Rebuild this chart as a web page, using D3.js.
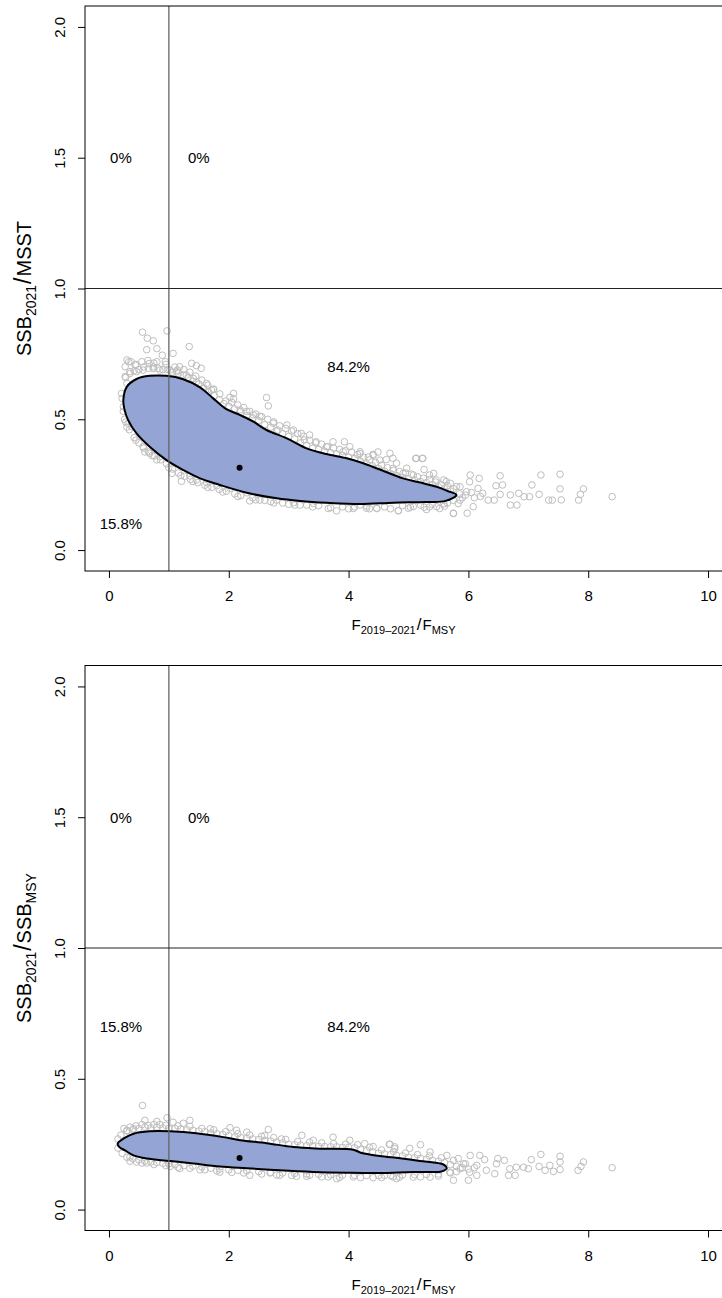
<!DOCTYPE html>
<html>
<head>
<meta charset="utf-8">
<script src="https://cdn.jsdelivr.net/npm/d3@7"></script>
<style>
body { margin: 0; background: #fff; }
svg { display: block; font-family: "Liberation Sans", Arial, sans-serif; }
</style>
</head>
<body>
<svg id="chart" width="722" height="1298"></svg>
<script>
// tick values shared by both panels
var xTicks = [0, 2, 4, 6, 8, 10];
var yTicks = [0, 0.5, 1, 1.5, 2];

// panel 1 : SSB/MSST
var contour1 = [[0.24,0.574],[0.30,0.625],[0.46,0.654],[0.68,0.666],[0.96,0.666],[1.24,0.653],[1.52,0.622],
	[1.74,0.580],[1.94,0.542],[2.19,0.516],[2.41,0.491],[2.63,0.459],[2.97,0.427],[3.30,0.389],[3.63,0.367],
	[3.97,0.351],[4.22,0.334],[4.50,0.310],[4.91,0.274],[5.20,0.258],[5.47,0.242],[5.65,0.226],[5.80,0.211],
	[5.62,0.188],[5.30,0.184],[4.75,0.181],[4.19,0.176],[3.63,0.181],[3.19,0.188],[2.80,0.198],[2.30,0.219],
	[1.85,0.249],[1.52,0.274],[1.24,0.306],[0.96,0.344],[0.68,0.395],[0.46,0.446],[0.32,0.497],[0.26,0.536]];
var points1 = [[0.56,0.833],[0.97,0.838],[0.64,0.81],[0.74,0.80],[0.80,0.77],[0.63,0.766],[1.34,0.778],[1.07,0.752],
	[0.89,0.745],[0.30,0.727],[0.37,0.72],[1.38,0.714],[1.46,0.705],[1.54,0.695],[1.14,0.688],
	[1.02,0.688],[1.13,0.682],[1.29,0.669],[1.41,0.656],[1.46,0.643],[1.57,0.618],[1.63,0.637],[1.71,0.612],
	[1.18,0.701],[0.85,0.688],[0.74,0.694],[0.57,0.688],[0.46,0.682],[0.35,0.682],[0.27,0.701],[0.33,0.720],
	[0.44,0.707],[0.67,0.713],[0.80,0.720],[0.94,0.720],[0.27,0.663],[0.30,0.637],[0.21,0.599],[0.24,0.548],
	[1.74,0.615],[1.85,0.597],[2.02,0.584],[2.08,0.599],[2.08,0.578],[2.19,0.536],[2.30,0.530],[2.41,0.517],
	[2.63,0.583],[2.66,0.551],[2.52,0.511],[2.74,0.485],[2.97,0.478],[2.82,0.459],[3.08,0.459],[3.21,0.446],
	[3.35,0.440],[3.26,0.421],[3.46,0.414],[3.63,0.395],[3.74,0.414],[3.93,0.414],[4.02,0.395],[3.91,0.376],
	[4.19,0.376],[4.41,0.366],[4.69,0.370],[4.74,0.351],[4.52,0.344],[4.80,0.332],[4.97,0.313],[5.13,0.351],
	[5.24,0.351],[5.08,0.287],[5.35,0.287],[5.46,0.268],[5.63,0.262],[5.80,0.243],
	[0.32,0.485],[0.38,0.472],[0.57,0.395],[0.68,0.370],[0.72,0.361],[0.85,0.357],[1.05,0.293],[1.21,0.263],
	[1.35,0.284],[1.46,0.268],[1.63,0.258],[1.80,0.246],[2.02,0.236],[2.30,0.219],[2.35,0.188],[2.52,0.191],
	[2.80,0.191],[2.63,0.217],[3.08,0.181],[3.19,0.172],[3.41,0.178],[3.66,0.159],[3.80,0.150],[4.08,0.159],
	[4.19,0.172],[4.47,0.159],[4.83,0.150],[5.08,0.166],[5.30,0.155],[5.52,0.159],[5.75,0.140],[5.83,0.178],
	[6.03,0.287],[6.18,0.274],[6.53,0.284],[7.21,0.287],[7.53,0.290],[7.53,0.234],[7.55,0.192],[7.92,0.234],
	[7.87,0.213],[7.84,0.191],[8.40,0.204],[7.06,0.249],[6.57,0.249],[6.46,0.246],[7.02,0.204],[6.93,0.204],
	[7.18,0.213],[7.34,0.191],[7.40,0.191],[6.84,0.217],[6.70,0.211],[6.70,0.172],[6.81,0.172],[6.53,0.213],
	[6.43,0.191],[6.33,0.191],[6.24,0.217],[6.16,0.236],[6.02,0.261],[5.97,0.223],[5.75,0.141],[5.98,0.141],
	[6.08,0.166],[5.86,0.191],[5.86,0.242],[5.70,0.255],[5.59,0.268],[5.42,0.293],[5.26,0.308],[5.12,0.350],
	[5.23,0.350],[4.91,0.293],[4.74,0.312],[4.63,0.346],[4.49,0.375],[4.41,0.362],[4.33,0.356],[4.19,0.369],
	[4.83,0.151],[4.47,0.160],[4.30,0.160],[5.03,0.164],[5.26,0.164],[5.47,0.166],[5.59,0.177],
	[0.28,0.66],[0.35,0.675],[0.42,0.685],[0.5,0.69],[0.58,0.70],[0.66,0.695],[0.74,0.70],[0.82,0.695],[0.9,0.69],
	[0.98,0.69],[1.06,0.68],[1.16,0.675],[1.24,0.67],[1.32,0.66],[1.4,0.645],[1.5,0.635],[1.58,0.62],[1.66,0.605],
	[1.76,0.59],[1.84,0.575],[1.92,0.56],[2.0,0.55],[2.1,0.54],[2.2,0.53],[2.3,0.515],[2.4,0.505],[2.5,0.495],
	[2.6,0.48],[2.7,0.47],[2.8,0.455],[2.9,0.445],[3.0,0.435],[3.1,0.425],[3.2,0.41],[3.3,0.4],[3.4,0.39],
	[3.5,0.385],[3.6,0.378],[3.7,0.372],[3.8,0.368],[3.9,0.362],[4.0,0.355],[4.1,0.35],[4.2,0.34],[4.3,0.33],
	[4.4,0.322],[4.5,0.312],[4.6,0.302],[4.7,0.292],[4.8,0.285],[4.9,0.278],[5.0,0.272],[5.1,0.268],[5.2,0.262],
	[5.3,0.258],[5.4,0.25],[5.5,0.242],[5.6,0.235],[5.7,0.226],[5.85,0.215],[5.9,0.2],[5.95,0.21],[6.05,0.22],
	[6.1,0.2],[6.2,0.205],
	[0.45,0.71],[0.55,0.72],[0.65,0.725],[0.75,0.715],[0.95,0.71],[1.1,0.70],[1.25,0.69],[1.35,0.68],[1.45,0.665],
	[1.55,0.65],[1.65,0.63],[1.75,0.615],[1.95,0.57],[2.05,0.565],[2.15,0.555],[2.25,0.545],[2.35,0.53],[2.45,0.52],
	[2.55,0.51],[2.65,0.5],[2.75,0.49],[2.85,0.475],[2.95,0.465],[3.05,0.455],[3.15,0.445],[3.25,0.435],[3.35,0.42],
	[3.45,0.41],[3.55,0.405],[3.65,0.395],[3.75,0.39],[3.85,0.385],[3.95,0.38],[4.05,0.375],[4.15,0.365],
	[4.25,0.355],[4.35,0.345],[4.45,0.335],[4.55,0.325],[4.65,0.315],[4.75,0.305],[4.85,0.3],[4.95,0.295],
	[5.05,0.29],[5.15,0.28],[5.25,0.275],[5.35,0.27],[5.45,0.26],[5.55,0.25],[5.65,0.245],[5.75,0.235],
	[0.22,0.58],[0.24,0.53],[0.28,0.49],[0.34,0.46],[0.42,0.43],[0.5,0.41],[0.58,0.39],[0.66,0.375],[0.76,0.36],
	[0.86,0.345],[0.96,0.33],[1.06,0.31],[1.16,0.295],[1.26,0.282],[1.36,0.27],[1.48,0.258],[1.6,0.248],[1.72,0.24],
	[1.84,0.232],[1.96,0.225],[2.1,0.215],[2.2,0.208],[2.4,0.2],[2.6,0.19],[2.7,0.185],[2.9,0.18],[3.0,0.175],
	[3.3,0.172],[3.5,0.17],[3.9,0.165],[4.1,0.165],[4.3,0.168],[4.6,0.165],[4.9,0.17],[5.2,0.172],[5.4,0.175],
	[5.65,0.18],[5.75,0.19],
	[0.26,0.5],[0.3,0.47],[0.45,0.42],[0.6,0.375],[0.8,0.345],[1.0,0.315],[1.2,0.285],[1.4,0.262],[1.65,0.24],
	[1.9,0.222],[2.15,0.205],[2.45,0.192],[2.75,0.18],[3.1,0.172],[3.4,0.165],[3.7,0.162],[4.0,0.158],[4.35,0.158],
	[4.7,0.158],[5.0,0.16],[5.35,0.165],[5.6,0.168]];
var median1 = [2.18, 0.315];
var labels1 = [["0%",0.2,1.5],["0%",1.5,1.5],["84.2%",4,0.7],["15.8%",0.2,0.1]];

// panel 2 : SSB/SSBmsy
var contour2 = [[0.145,0.252],[0.27,0.275],[0.41,0.290],[0.68,0.299],[1.02,0.299],[1.46,0.292],[1.91,0.277],
	[2.19,0.265],[2.63,0.254],[3.08,0.239],[3.52,0.233],[4.08,0.229],[4.22,0.216],[4.52,0.205],[4.86,0.196],
	[5.19,0.186],[5.53,0.176],[5.60,0.170],[5.64,0.158],[5.60,0.150],[5.53,0.145],[5.08,0.144],[4.52,0.140],
	[3.97,0.141],[3.41,0.144],[2.85,0.150],[2.30,0.158],[1.85,0.165],[1.41,0.176],[1.02,0.186],[0.63,0.195],
	[0.41,0.207],[0.27,0.226],[0.17,0.240]];
var points2 = [[0.56,0.398],[0.97,0.351],[0.60,0.341],[0.80,0.337],[1.07,0.334],[1.35,0.341],[1.24,0.330],
	[0.30,0.303],[0.41,0.309],[1.69,0.309],[2.02,0.313],[2.13,0.303],[2.30,0.296],[2.66,0.306],[2.60,0.283],
	[2.88,0.270],[3.22,0.284],[3.41,0.265],[3.74,0.277],[4.02,0.265],[4.27,0.252],[4.41,0.241],[4.69,0.250],
	[4.77,0.233],[0.35,0.201],[0.46,0.182],[0.63,0.178],[1.02,0.165],[1.18,0.157],[1.52,0.152],[1.85,0.143],
	[2.35,0.131],[2.69,0.140],[2.85,0.131],[3.13,0.127],[3.35,0.131],[3.66,0.125],[3.80,0.118],[4.08,0.125],
	[4.41,0.122],[4.74,0.125],
	[4.68,0.249],[4.77,0.240],[5.02,0.234],[5.20,0.248],[5.36,0.220],[5.64,0.207],[5.83,0.195],[6.03,0.207],
	[6.19,0.207],[6.27,0.191],[6.49,0.195],[6.60,0.188],[7.05,0.191],[7.21,0.211],[7.53,0.204],[7.53,0.182],
	[7.53,0.153],[7.36,0.169],[7.28,0.150],[7.42,0.146],[7.92,0.182],[7.88,0.165],[7.83,0.150],[8.40,0.160],
	[7.18,0.165],[7.00,0.156],[6.92,0.162],[6.80,0.162],[6.78,0.131],[6.67,0.131],[6.44,0.137],[6.30,0.150],
	[6.14,0.131],[6.02,0.143],[6.00,0.112],[5.75,0.112],[5.86,0.156],[5.69,0.143],[5.36,0.124],[5.08,0.124],
	[4.80,0.118],[4.60,0.131],[5.92,0.175],[6.14,0.169],[6.47,0.175],[6.69,0.156],
	[0.15,0.27],[0.2,0.285],[0.3,0.3],[0.4,0.305],[0.5,0.31],[0.6,0.315],[0.7,0.312],[0.8,0.315],[0.9,0.312],
	[1.0,0.31],[1.1,0.31],[1.2,0.308],[1.3,0.305],[1.4,0.303],[1.5,0.3],[1.6,0.298],[1.7,0.293],[1.8,0.29],
	[1.9,0.287],[2.0,0.283],[2.1,0.278],[2.2,0.275],[2.3,0.272],[2.4,0.27],[2.5,0.268],[2.6,0.265],[2.7,0.262],
	[2.8,0.258],[2.9,0.255],[3.0,0.25],[3.1,0.248],[3.2,0.246],[3.3,0.244],[3.4,0.243],[3.5,0.242],[3.6,0.241],
	[3.7,0.24],[3.8,0.24],[3.9,0.238],[4.0,0.238],[4.1,0.236],[4.2,0.23],[4.3,0.225],[4.4,0.22],[4.5,0.216],
	[4.6,0.213],[4.7,0.21],[4.8,0.207],[4.9,0.205],[5.0,0.2],[5.1,0.198],[5.2,0.196],[5.3,0.192],[5.4,0.188],
	[5.5,0.185],[5.6,0.18],[5.7,0.172],[5.8,0.165],[5.9,0.16],[6.0,0.155],[6.1,0.16],
	[0.25,0.31],[0.35,0.315],[0.45,0.32],[0.55,0.325],[0.65,0.322],[0.75,0.325],[0.85,0.325],[0.95,0.322],
	[1.15,0.32],[1.35,0.318],[1.55,0.31],[1.75,0.305],[1.95,0.298],[2.15,0.29],[2.35,0.285],[2.55,0.28],
	[2.75,0.275],[2.95,0.268],[3.15,0.26],[3.35,0.258],[3.55,0.255],[3.75,0.252],[3.95,0.25],[4.15,0.248],
	[4.35,0.238],[4.55,0.228],[4.75,0.222],[4.95,0.216],[5.15,0.21],[5.35,0.205],[5.55,0.198],[5.75,0.188],
	[5.95,0.175],
	[0.15,0.235],[0.22,0.215],[0.3,0.2],[0.4,0.195],[0.5,0.19],[0.6,0.185],[0.7,0.182],[0.8,0.18],[0.9,0.177],
	[1.0,0.175],[1.1,0.172],[1.25,0.168],[1.4,0.166],[1.55,0.163],[1.7,0.158],[1.85,0.155],[2.0,0.152],
	[2.15,0.15],[2.3,0.148],[2.5,0.145],[2.7,0.142],[2.9,0.14],[3.1,0.138],[3.3,0.136],[3.5,0.135],[3.7,0.133],
	[3.9,0.132],[4.1,0.131],[4.3,0.13],[4.5,0.13],[4.7,0.13],[4.9,0.132],[5.1,0.133],[5.3,0.134],[5.5,0.136],
	[5.7,0.14],[5.8,0.145],
	[0.35,0.185],[0.55,0.178],[0.75,0.172],[0.95,0.168],[1.15,0.162],[1.35,0.158],[1.6,0.152],[1.8,0.148],
	[2.05,0.142],[2.25,0.14],[2.55,0.136],[2.8,0.132],[3.05,0.13],[3.3,0.127],[3.55,0.125],[3.85,0.123],
	[4.2,0.122],[4.55,0.122],[4.85,0.124],[5.2,0.125],[5.5,0.128]];
var median2 = [2.18, 0.197];
var labels2 = [["0%",0.2,1.5],["0%",1.5,1.5],["84.2%",4,0.7],["15.8%",0.2,0.7]];

var svg = d3.select("#chart");
var left = 85, right = 732;

function drawPanel(top, bottom, pts, contour, med, labels, yTitle) {
	var g = svg.append("g");
	var x = d3.scaleLinear().domain([-0.4, 10.4]).range([left, right]);
	var y = d3.scaleLinear().domain([-0.08, 2.08]).range([bottom, top]);

	g.selectAll("circle.pt")
		.data(pts)
		.enter().append("circle")
		.attr("cx", function(d) { return x(d[0]); })
		.attr("cy", function(d) { return y(d[1]); })
		.attr("r", 3.3)
		.attr("fill", "none")
		.attr("stroke", "#bebebe")
		.attr("stroke-width", 1);

	var line = d3.line()
		.x(function(d) { return x(d[0]); })
		.y(function(d) { return y(d[1]); })
		.curve(d3.curveCatmullRomClosed);

	g.append("path")
		.datum(contour)
		.attr("d", line)
		.attr("fill", "#8d9fd3")
		.attr("fill-opacity", 0.95)
		.attr("stroke", "#000")
		.attr("stroke-width", 2)
		.attr("stroke-linejoin", "round");

	g.append("circle")
		.attr("cx", x(med[0]))
		.attr("cy", y(med[1]))
		.attr("r", 3)
		.attr("fill", "#000");

	// reference lines
	g.append("line")
		.attr("x1", x(1)).attr("x2", x(1))
		.attr("y1", top).attr("y2", bottom)
		.attr("stroke", "#666").attr("stroke-width", 1.3);
	g.append("line")
		.attr("x1", left).attr("x2", right)
		.attr("y1", y(1)).attr("y2", y(1))
		.attr("stroke", "#222").attr("stroke-width", 1);

	g.selectAll("text.pct")
		.data(labels)
		.enter().append("text")
		.attr("x", function(d) { return x(d[1]); })
		.attr("y", function(d) { return y(d[2]); })
		.attr("dy", "0.36em")
		.attr("text-anchor", "middle")
		.attr("font-size", 15)
		.text(function(d) { return d[0]; });

	g.append("rect")
		.attr("x", left).attr("y", top)
		.attr("width", right - left).attr("height", bottom - top)
		.attr("fill", "none").attr("stroke", "#000").attr("stroke-width", 1);

	var xa = g.append("g")
		.attr("transform", "translate(0," + bottom + ")")
		.call(d3.axisBottom(x).tickValues(xTicks).tickSize(7).tickPadding(12.5).tickFormat(d3.format("d")));
	xa.select(".domain").remove();
	xa.selectAll("text").attr("font-size", 15).attr("font-family", null);

	var ya = g.append("g")
		.attr("transform", "translate(" + left + ",0)")
		.call(d3.axisLeft(y).tickValues(yTicks).tickSize(7).tickFormat(d3.format(".1f")));
	ya.select(".domain").remove();
	ya.selectAll("text")
		.attr("x", 0).attr("dy", "0.36em")
		.attr("text-anchor", "middle")
		.attr("font-size", 15).attr("font-family", null)
		.attr("transform", "translate(-25,0) rotate(-90)");

	// axis titles
	var xt = g.append("text")
		.attr("x", (left + right) / 2 - 5)
		.attr("y", bottom + 54)
		.attr("dy", "0.36em")
		.attr("text-anchor", "middle")
		.attr("font-size", 15);
	xt.append("tspan").text("F");
	xt.append("tspan").attr("font-size", 11).attr("dy", 4).text("2019\u20132021");
	xt.append("tspan").attr("font-size", 17).attr("dy", -4).attr("dx", 1).text("/");
	xt.append("tspan").attr("dx", 1).text("F");
	xt.append("tspan").attr("font-size", 11).attr("dy", 4).text("MSY");

	var yt = g.append("text")
		.attr("transform", "translate(24," + (top + bottom) / 2 + ") rotate(-90)")
		.attr("dy", "0.36em")
		.attr("text-anchor", "middle")
		.attr("font-size", 20);
	yt.append("tspan").text("SSB");
	yt.append("tspan").attr("font-size", 14).attr("dy", 5).text("2021");
	yt.append("tspan").attr("font-size", 23).attr("dy", -5).attr("dx", 1).text("/");
	if (yTitle === "MSST") {
		yt.append("tspan").attr("dx", 1).text("MSST");
	} else {
		yt.append("tspan").attr("dx", 1).text("SSB");
		yt.append("tspan").attr("font-size", 14).attr("dy", 5).text("MSY");
	}
}

drawPanel(6, 571, points1, contour1, median1, labels1, "MSST");
drawPanel(665.5, 1230.5, points2, contour2, median2, labels2, "SSBMSY");
</script>
</body>
</html>
